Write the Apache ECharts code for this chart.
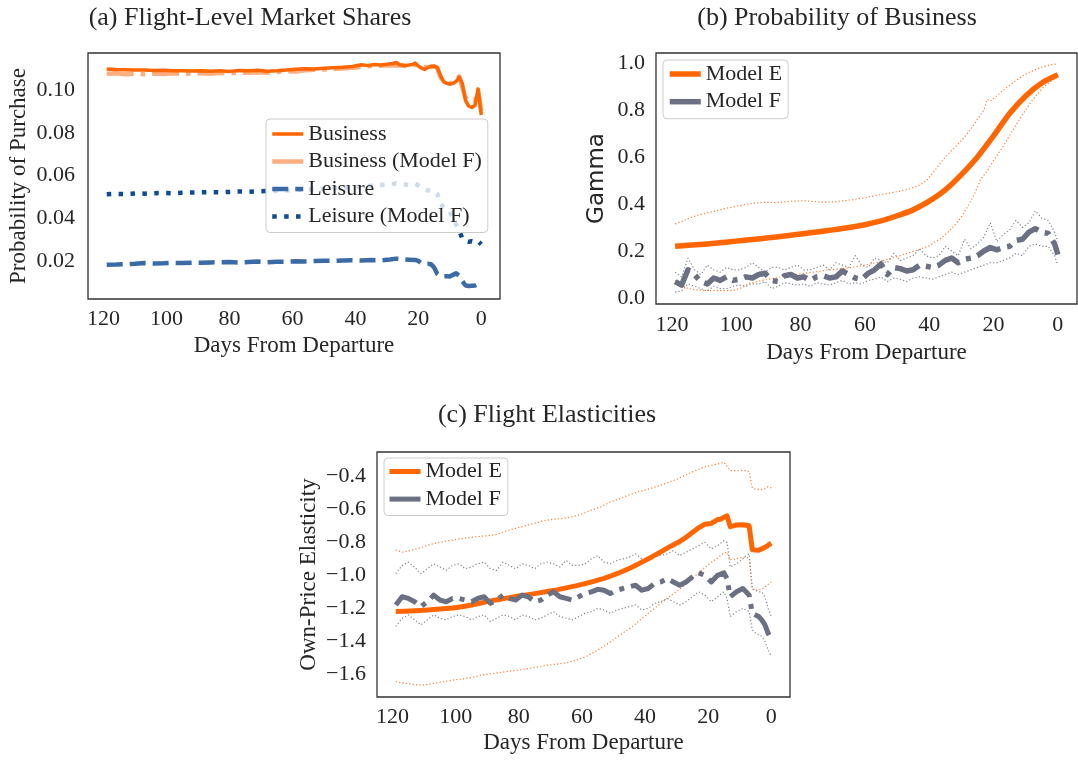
<!DOCTYPE html>
<html><head><meta charset="utf-8">
<script src="https://cdn.jsdelivr.net/npm/echarts@6/dist/echarts.min.js"></script>
<style>html,body{margin:0;padding:0;background:#fff}#c{width:1078px;height:762px}</style>
</head><body><div id="c"></div>
<script>
// ---------- tick labels ----------
const xTicks = [0, 20, 40, 60, 80, 100, 120];
const yTicksA = [0.02, 0.04, 0.06, 0.08, 0.10];
const yTicksB = [0.0, 0.2, 0.4, 0.6, 0.8, 1.0];
const yTicksC = [-1.6, -1.4, -1.2, -1.0, -0.8, -0.6, -0.4];

// ---------- (a) Flight-Level Market Shares ----------
const bizDays = [119,116,113,110,107,104,101,98,95,92,89,86,83,80,77,74,71,68,65,62,59,56,53,50,47,44,41,38,36,34,32,30,28,27,26,24,22,21,20,19,18,17,16,15,14,13,12,11,10,9,8,7,6,5,4,3,2,1,0];
const bizVals = [0.1098,0.1096,0.1095,0.1093,0.1094,0.1091,0.1092,0.1090,0.1090,0.1089,0.1090,0.1088,0.1090,0.1087,0.1091,0.1090,0.1092,0.1088,0.1090,0.1093,0.1097,0.1099,0.1098,0.1102,0.1104,0.1106,0.1110,0.1118,0.1114,0.1119,0.1117,0.1120,0.1124,0.1129,0.1118,0.1115,0.1119,0.1126,0.1112,0.1102,0.1096,0.1104,0.1110,0.1112,0.1106,0.1070,0.1040,0.1031,0.1028,0.1030,0.1040,0.1060,0.1030,0.0950,0.0925,0.0918,0.0928,0.1005,0.0883];
const bizFDays = [119,116,113,110,107,104,101,98,95,92,89,86,83,80,77,74,71,68,65,62,59,56,53,50,47,44,41,38,35,32,29,26,24,21,19,17,15,14,13,12,10,8,7,6,5,4,3,2,1,0];
const bizFVals = [0.1076,0.1078,0.1073,0.1076,0.1074,0.1077,0.1075,0.1078,0.1074,0.1077,0.1079,0.1076,0.1080,0.1078,0.1082,0.1080,0.1083,0.1081,0.1084,0.1088,0.1086,0.1092,0.1095,0.1096,0.1099,0.1101,0.1104,0.1108,0.1112,0.1113,0.1116,0.1114,0.1112,0.1118,0.1106,0.1108,0.1110,0.1104,0.1060,0.1038,0.1030,0.1045,0.1064,0.1010,0.0965,0.0950,0.0955,0.0952,0.0998,0.0900];
const leiDays = [119,116,113,110,107,104,101,98,95,92,89,86,83,80,77,74,71,68,65,62,59,56,53,50,47,44,41,38,35,32,29,27,25,23,21,20,19,18,17,16,15,14,13,12,11,10,9,8,7,6,5,4,3,2,1,0];
const leiVals = [0.0182,0.0183,0.0185,0.0187,0.0190,0.0188,0.0189,0.0191,0.0190,0.0192,0.0192,0.0193,0.0194,0.0195,0.0193,0.0195,0.0197,0.0194,0.0196,0.0197,0.0199,0.0198,0.0200,0.0201,0.0200,0.0202,0.0203,0.0202,0.0204,0.0203,0.0207,0.0211,0.0207,0.0206,0.0205,0.0200,0.0190,0.0186,0.0187,0.0185,0.0170,0.0140,0.0130,0.0128,0.0129,0.0127,0.0135,0.0142,0.0130,0.0105,0.0085,0.0083,0.0084,0.0085,0.0092,0.0082];
const leiFDays = [119,116,113,110,107,104,101,98,95,92,89,86,83,80,77,74,71,68,65,62,59,56,53,50,47,44,41,38,35,32,29,27,25,23,21,19,17,15,14,13,12,11,10,9,8,7,6,5,4,3,2,1,0];
const leiFVals = [0.0512,0.0514,0.0513,0.0516,0.0515,0.0517,0.0518,0.0517,0.0519,0.0520,0.0521,0.0522,0.0521,0.0523,0.0525,0.0524,0.0526,0.0527,0.0528,0.0530,0.0533,0.0534,0.0536,0.0538,0.0540,0.0543,0.0545,0.0548,0.0552,0.0555,0.0558,0.0563,0.0558,0.0557,0.0562,0.0545,0.0530,0.0528,0.0515,0.0470,0.0450,0.0442,0.0430,0.0400,0.0370,0.0340,0.0305,0.0295,0.0290,0.0292,0.0288,0.0292,0.0278];

// ---------- (b) Probability of Business ----------
const bEDays = [119,115,110,105,100,95,90,85,80,75,70,65,60,55,50,45,40,35,30,25,20,15,10,5,0];
const bEVals = [0.220,0.224,0.229,0.235,0.242,0.249,0.256,0.264,0.272,0.281,0.290,0.300,0.312,0.328,0.350,0.375,0.412,0.460,0.525,0.600,0.690,0.785,0.860,0.915,0.950];
const bEUpDays = [119,117,115,112,109,106,103,100,97,94,91,88,85,82,79,76,73,70,67,64,61,58,55,52,49,46,43,41,39,37,35,33,31,29,27,25,23,22,21,19,17,15,13,11,9,7,5,3,1,0];
const bEUpVals = [0.315,0.325,0.338,0.352,0.362,0.372,0.382,0.390,0.398,0.405,0.407,0.406,0.409,0.412,0.414,0.410,0.408,0.409,0.413,0.418,0.425,0.432,0.440,0.447,0.455,0.465,0.480,0.498,0.530,0.565,0.600,0.628,0.655,0.685,0.720,0.760,0.800,0.845,0.838,0.860,0.885,0.905,0.925,0.945,0.960,0.972,0.982,0.990,0.995,0.996];
const bELoDays = [119,117,115,112,109,105,101,98,96,93,90,86,83,80,76,72,68,64,60,56,52,48,44,40,36,33,30,28,26,24,22,20,17,14,11,8,5,2,0];
const bELoVals = [0.075,0.055,0.040,0.034,0.032,0.031,0.032,0.045,0.062,0.072,0.080,0.090,0.097,0.103,0.110,0.118,0.124,0.130,0.140,0.152,0.168,0.185,0.202,0.222,0.258,0.295,0.345,0.390,0.440,0.505,0.540,0.585,0.645,0.715,0.780,0.840,0.890,0.925,0.945];
const bFDays = [119,117,115,113,111,109,107,105,103,101,99,97,95,93,91,89,87,85,83,81,79,77,75,73,71,69,67,65,63,61,59,57,55,53,51,49,47,45,43,41,39,37,35,33,31,29,27,25,23,21,19,17,15,13,11,9,7,5,3,1,0];
const bFVals = [0.07,0.055,0.12,0.10,0.07,0.06,0.085,0.075,0.09,0.075,0.08,0.09,0.085,0.10,0.105,0.075,0.07,0.095,0.10,0.085,0.09,0.075,0.09,0.095,0.085,0.09,0.115,0.10,0.085,0.08,0.105,0.12,0.145,0.10,0.13,0.125,0.115,0.12,0.14,0.135,0.13,0.14,0.16,0.17,0.15,0.165,0.17,0.18,0.20,0.215,0.205,0.215,0.22,0.245,0.25,0.28,0.295,0.28,0.275,0.23,0.185];
const bFUpVals = [0.11,0.09,0.17,0.12,0.10,0.14,0.12,0.11,0.13,0.12,0.12,0.13,0.15,0.13,0.11,0.13,0.13,0.12,0.13,0.14,0.12,0.12,0.13,0.14,0.12,0.15,0.14,0.13,0.18,0.14,0.13,0.17,0.16,0.15,0.19,0.16,0.17,0.18,0.21,0.18,0.17,0.18,0.22,0.20,0.18,0.25,0.21,0.23,0.26,0.32,0.24,0.27,0.29,0.33,0.30,0.32,0.37,0.34,0.33,0.28,0.24];
const bFLoVals = [0.025,0.03,0.06,0.05,0.04,0.03,0.05,0.04,0.04,0.05,0.055,0.05,0.06,0.06,0.07,0.04,0.05,0.065,0.06,0.055,0.06,0.05,0.065,0.06,0.055,0.065,0.075,0.06,0.065,0.06,0.075,0.08,0.09,0.07,0.085,0.08,0.07,0.085,0.09,0.085,0.08,0.09,0.10,0.11,0.10,0.11,0.12,0.13,0.14,0.15,0.15,0.16,0.17,0.19,0.18,0.22,0.23,0.22,0.22,0.18,0.14];

// ---------- (c) Flight Elasticities ----------
const cEDays = [119,116,113,110,107,104,101,98,95,92,89,86,83,80,77,74,71,68,65,62,59,56,53,50,47,44,41,38,35,32,29,27,25,23,21,19,17,16,15,14,13,12,11,9,8,7,6,5,4,3,2,1,0];
const cEVals = [-1.220,-1.218,-1.215,-1.212,-1.207,-1.203,-1.198,-1.190,-1.180,-1.168,-1.155,-1.145,-1.135,-1.125,-1.117,-1.108,-1.098,-1.088,-1.076,-1.064,-1.050,-1.035,-1.018,-0.998,-0.975,-0.950,-0.920,-0.890,-0.858,-0.825,-0.795,-0.770,-0.740,-0.712,-0.690,-0.685,-0.662,-0.660,-0.648,-0.640,-0.705,-0.700,-0.695,-0.694,-0.697,-0.700,-0.845,-0.847,-0.848,-0.840,-0.830,-0.818,-0.805];
const cEUpDays = [119,117,114,111,108,105,102,99,96,93,90,87,84,81,78,75,72,69,66,63,60,57,54,51,48,45,42,39,36,33,30,27,24,21,18,16,15,14,13,11,9,7,6,5,3,2,1,0];
const cEUpVals = [-0.845,-0.860,-0.848,-0.832,-0.812,-0.800,-0.790,-0.780,-0.772,-0.765,-0.760,-0.752,-0.730,-0.715,-0.700,-0.685,-0.668,-0.660,-0.655,-0.645,-0.628,-0.605,-0.585,-0.556,-0.535,-0.512,-0.492,-0.478,-0.460,-0.440,-0.418,-0.392,-0.365,-0.342,-0.330,-0.320,-0.315,-0.340,-0.365,-0.365,-0.364,-0.370,-0.470,-0.478,-0.480,-0.475,-0.462,-0.470];
const cELoDays = [119,116,113,110,107,104,101,98,95,92,89,86,83,80,77,74,71,68,65,62,59,56,53,50,47,44,41,38,35,32,29,26,23,20,17,15,14,13,11,9,7,6,5,3,2,1,0];
const cELoVals = [-1.645,-1.655,-1.662,-1.665,-1.655,-1.645,-1.635,-1.628,-1.620,-1.605,-1.597,-1.590,-1.580,-1.575,-1.565,-1.555,-1.545,-1.538,-1.530,-1.515,-1.495,-1.465,-1.430,-1.390,-1.350,-1.310,-1.262,-1.215,-1.170,-1.125,-1.085,-1.035,-0.985,-0.935,-0.895,-0.865,-0.860,-0.905,-0.900,-0.890,-0.895,-1.085,-1.090,-1.085,-1.070,-1.055,-1.040];
const cFDays = [119,117,115,113,111,109,107,105,103,101,99,97,95,93,91,89,87,85,83,81,79,77,75,73,71,69,67,65,63,61,59,57,55,53,51,49,47,45,43,41,39,37,35,33,31,29,27,25,23,21,19,17,15,14,13,11,9,8,7,6,5,4,3,2,1,0];
const cFVals = [-1.18,-1.13,-1.14,-1.16,-1.19,-1.16,-1.12,-1.15,-1.16,-1.14,-1.14,-1.15,-1.16,-1.14,-1.13,-1.17,-1.15,-1.12,-1.14,-1.15,-1.12,-1.13,-1.16,-1.15,-1.12,-1.10,-1.13,-1.14,-1.15,-1.13,-1.11,-1.10,-1.085,-1.09,-1.11,-1.09,-1.08,-1.07,-1.06,-1.09,-1.08,-1.05,-1.04,-1.02,-1.04,-1.06,-1.04,-1.01,-0.985,-1.00,-1.04,-1.00,-0.985,-1.02,-1.13,-1.10,-1.08,-1.10,-1.12,-1.23,-1.24,-1.25,-1.27,-1.30,-1.35,-1.39];
const cFUpVals = [-0.99,-0.94,-0.92,-0.95,-0.99,-0.96,-0.93,-0.95,-0.97,-0.94,-0.93,-0.96,-0.95,-0.93,-0.92,-0.96,-0.97,-0.92,-0.94,-0.96,-0.93,-0.94,-0.96,-0.93,-0.92,-0.93,-0.95,-0.91,-0.94,-0.94,-0.93,-0.90,-0.88,-0.92,-0.93,-0.91,-0.90,-0.89,-0.87,-0.90,-0.91,-0.89,-0.88,-0.87,-0.85,-0.88,-0.86,-0.84,-0.82,-0.80,-0.84,-0.82,-0.79,-0.80,-0.95,-0.93,-0.90,-0.88,-0.87,-1.08,-1.09,-1.10,-1.10,-1.13,-1.20,-1.25];
const cFLoVals = [-1.31,-1.26,-1.24,-1.27,-1.30,-1.27,-1.24,-1.26,-1.27,-1.25,-1.24,-1.25,-1.27,-1.25,-1.24,-1.28,-1.26,-1.24,-1.25,-1.27,-1.24,-1.25,-1.27,-1.26,-1.24,-1.22,-1.25,-1.26,-1.27,-1.25,-1.23,-1.22,-1.20,-1.21,-1.23,-1.21,-1.20,-1.19,-1.18,-1.21,-1.20,-1.17,-1.16,-1.14,-1.16,-1.18,-1.16,-1.13,-1.10,-1.12,-1.16,-1.13,-1.10,-1.14,-1.25,-1.22,-1.20,-1.21,-1.22,-1.33,-1.35,-1.36,-1.37,-1.40,-1.45,-1.49];

// ---------- build ----------
const SERIF = 'Liberation Serif';
const TXT = '#262626';
const ORANGE = '#ff6600', LORANGE = '#fcae80', BAND_O = '#ff7d2e';
const GREY = '#6b7082', BAND_G = '#80838e';
const STEEL = '#3b6ba7', NAVY = '#0b4c95';
const zip = (d, v) => d.map((x, i) => [x, v[i]]);
const minus = s => s.replace('-', '\u2212');

const grids = [
  {left: 88, top: 53, width: 412, height: 246},
  {left: 656, top: 53, width: 421, height: 251},
  {left: 377, top: 452, width: 413, height: 245}
].map(g => Object.assign(g, {show: true, borderColor: '#333333', borderWidth: 1.3, backgroundColor: 'transparent', containLabel: false}));

function xAx(gi, margin, gap) {
  return {gridIndex: gi, type: 'value', inverse: true, min: -5.95, max: 124.95,
    axisLine: {show: false}, axisTick: {show: false}, splitLine: {show: false},
    axisLabel: {customValues: xTicks, margin: margin, fontFamily: SERIF, fontSize: 22, color: TXT},
    name: 'Days From Departure', nameLocation: 'middle', nameGap: gap,
    nameTextStyle: {fontFamily: SERIF, fontSize: 23, color: TXT}};
}
function yAx(gi, min, max, ticks, dec, name, fam, gap, margin) {
  return {gridIndex: gi, type: 'value', min: min, max: max,
    axisLine: {show: false}, axisTick: {show: false}, splitLine: {show: false},
    axisLabel: {customValues: ticks, margin: margin, fontFamily: SERIF, fontSize: 22, color: TXT,
      formatter: v => minus(Number(v).toFixed(dec))},
    name: name, nameLocation: 'middle', nameGap: gap,
    nameTextStyle: {fontFamily: fam, fontSize: 23, color: TXT}};
}

function line(name, gi, data, color, width, type, extra) {
  return Object.assign({name: name, type: 'line', xAxisIndex: gi, yAxisIndex: gi, data: data,
    symbol: 'none', showSymbol: false, silent: true, animation: false,
    lineStyle: {color: color, width: width, type: type, cap: 'butt', join: 'round'},
    itemStyle: {color: color}}, extra || {});
}
const dotted = [1.2, 2.2];

const series = [
  // (a)
  line('Business (Model F)', 0, zip(bizFDays, bizFVals), LORANGE, 4.5, [27, 7, 4.5, 7]),
  line('Business', 0, zip(bizDays, bizVals), ORANGE, 3.5, 'solid'),
  line('Leisure', 0, zip(leiDays, leiVals), STEEL, 4.5, [16, 7]),
  line('Leisure (Model F)', 0, zip(leiFDays, leiFVals), NAVY, 4.5, [4.5, 7.4]),
  // (b)
  line('bEup', 1, zip(bEUpDays, bEUpVals), BAND_O, 1.2, dotted),
  line('bElo', 1, zip(bELoDays, bELoVals), BAND_O, 1.2, dotted),
  line('bFup', 1, zip(bFDays, bFUpVals), BAND_G, 1.2, dotted),
  line('bFlo', 1, zip(bFDays, bFLoVals), BAND_G, 1.2, dotted),
  line('Model E', 1, zip(bEDays, bEVals), ORANGE, 5.5, 'solid', {smooth: 0.3}),
  line('Model F', 1, zip(bFDays, bFVals), GREY, 5.5, [26, 7, 5, 7]),
  // (c)
  line('cEup', 2, zip(cEUpDays, cEUpVals), BAND_O, 1.2, dotted),
  line('cElo', 2, zip(cELoDays, cELoVals), BAND_O, 1.2, dotted),
  line('cFup', 2, zip(cFDays, cFUpVals), BAND_G, 1.2, dotted),
  line('cFlo', 2, zip(cFDays, cFLoVals), BAND_G, 1.2, dotted),
  line('Model E', 2, zip(cEDays, cEVals), ORANGE, 5, 'solid'),
  line('Model F', 2, zip(cFDays, cFVals), GREY, 5, [26, 7, 5, 7])
];

function legend(left, top, padding, gap, items, solidAll) {
  const lg = {left: left, top: top, orient: 'vertical', padding: padding, itemGap: gap,
    itemWidth: 31, itemHeight: 14, selectedMode: false,
    backgroundColor: 'rgba(255,255,255,0.8)', borderColor: '#cccccc', borderWidth: 1, borderRadius: 4,
    textStyle: {fontFamily: SERIF, fontSize: 22, color: TXT},
    itemStyle: {opacity: 0},
    data: items.map(it => ({name: it[0], lineStyle: {width: it[1], type: it[2]}, itemStyle: {opacity: 0}}))};
  if (solidAll) lg.lineStyle = {type: 'solid'};
  return lg;
}

const option = {
  backgroundColor: '#ffffff',
  animation: false,
  grid: grids,
  xAxis: [xAx(0, 9, 35), xAx(1, 10, 37), xAx(2, 9, 34)],
  yAxis: [
    yAx(0, 0.0022, 0.1173, yTicksA, 2, 'Probability of Purchase', SERIF, 58, 13),
    yAx(1, -0.0255, 1.0425, yTicksB, 1, 'Gamma', 'DejaVu Sans', 47, 11),
    yAx(2, -1.7375, -0.2525, yTicksC, 1, 'Own-Price Elasticity', SERIF, 57, 11)
  ],
  legend: [
    legend(266, 119, [4, 6, 5, 4], 5.5, [['Business', 3.5, 'solid'], ['Business (Model F)', 4.5, 'solid'], ['Leisure', 4.5, [16, 7]], ['Leisure (Model F)', 4.5, [4.5, 7.4]]], false),
    legend(663, 60, [3, 6, 6, 4], 5.7, [['Model E', 5.5, 'solid'], ['Model F', 5.5, 'solid']], true),
    legend(384, 458, [2.5, 6, 5.5, 3], 5.6, [['Model E', 5, 'solid'], ['Model F', 5, 'solid']], true)
  ],
  graphic: [
    {type: 'text', x: 250, y: 18, style: {text: '(a) Flight-Level Market Shares', font: '26px "Liberation Serif"', fill: TXT, align: 'center', verticalAlign: 'middle'}},
    {type: 'text', x: 837, y: 18, style: {text: '(b) Probability of Business', font: '26px "Liberation Serif"', fill: TXT, align: 'center', verticalAlign: 'middle'}},
    {type: 'text', x: 547, y: 415, style: {text: '(c) Flight Elasticities', font: '26px "Liberation Serif"', fill: TXT, align: 'center', verticalAlign: 'middle'}}
  ],
  series: series
};
const chart = echarts.init(document.getElementById('c'), null, {renderer: 'canvas'});
chart.setOption(option);
</script>
</body></html>
